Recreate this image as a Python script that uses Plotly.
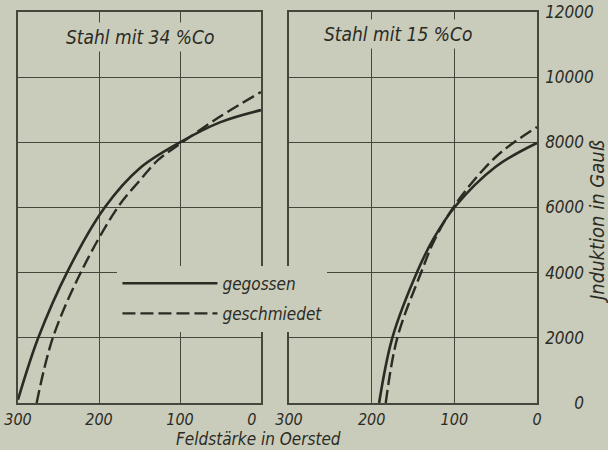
import plotly.graph_objects as go

# ---- data ----
H_34_cast = [300, 275, 238, 193, 150, 100, 50, 0]
B_34_cast = [100, 2000, 4080, 6000, 7200, 8000, 8620, 8990]
H_34_forged = [277, 257, 221, 177, 150, 127, 100, 50, 0]
B_34_forged = [0, 2000, 4080, 6000, 6820, 7460, 7950, 8800, 9545]

H_15_cast = [191, 175, 144, 125, 100, 50, 0]
B_15_cast = [0, 2000, 4080, 5050, 6000, 7250, 7980]
H_15_forged = [183, 169, 139, 125, 100, 50, 0]
B_15_forged = [0, 2000, 4080, 4950, 6050, 7550, 8470]

x_ticks = [300, 200, 100, 0]
x_ticktext_left = ["300", "200", "100", "0\u2007\u2007"]
x_ticktext_right = ["300", "200", "100", "0"]
y_ticks = [0, 2000, 4000, 6000, 8000, 10000, 12000]
y_ticktext = ["\u2007\u2007\u20070", "2000", "4000", "6000", "8000", "10000", "12000"]
titles = ["Stahl mit 34 %Co", "Stahl mit 15 %Co"]
legend_names = ["gegossen", "geschmiedet"]

BG = "#c9cbbb"
INK = "#2b2b24"
GRID = "#46463c"
FAM = "DejaVu Sans Condensed, DejaVu Sans, sans-serif"
FONT = dict(family=FAM, size=17, color=INK, style="italic")
FONT_XT = dict(family=FAM, size=16, color=INK, style="italic")
FONT_T = dict(family=FAM, size=19, color=INK, style="italic")
FONT_Y = dict(family=FAM, size=20, color=INK, style="italic")
FONT_AX = dict(family=FAM, size=17, color=INK, style="italic")

fig = go.Figure()
dash = "13px,5px"
fig.add_trace(go.Scatter(x=H_34_cast, y=B_34_cast, mode="lines", name=legend_names[0],
                         line=dict(color=INK, width=2.6, shape="spline", smoothing=1.0),
                         xaxis="x", yaxis="y", legendgroup="a"))
fig.add_trace(go.Scatter(x=H_34_forged, y=B_34_forged, mode="lines", name=legend_names[1],
                         line=dict(color=INK, width=2.4, dash=dash, shape="spline", smoothing=1.0),
                         xaxis="x", yaxis="y", legendgroup="b"))
fig.add_trace(go.Scatter(x=H_15_cast, y=B_15_cast, mode="lines", showlegend=False,
                         line=dict(color=INK, width=2.6, shape="spline"),
                         xaxis="x2", yaxis="y2"))
fig.add_trace(go.Scatter(x=H_15_forged, y=B_15_forged, mode="lines", showlegend=False,
                         line=dict(color=INK, width=2.4, dash=dash, shape="spline"),
                         xaxis="x2", yaxis="y2"))

xcommon = dict(range=[300, 0], tickvals=x_ticks,
               showgrid=True, gridcolor=GRID, gridwidth=1.3, showline=True,
               linecolor=GRID, linewidth=1.5, mirror=True, zeroline=False,
               ticks="", tickfont=FONT_XT, automargin=False, ticklabelstandoff=1)
ycommon = dict(range=[0, 12000], tickvals=y_ticks, ticktext=y_ticktext, showgrid=True,
               gridcolor=GRID, gridwidth=1.3, showline=True, linecolor=GRID, linewidth=1.5,
               mirror=True, zeroline=False, ticks="", tickfont=FONT, automargin=False)

fig.update_layout(
    width=608, height=450,
    margin=dict(l=18, r=71, t=12, b=47),
    paper_bgcolor=BG, plot_bgcolor=BG,
    font=FONT,
    xaxis=dict(domain=[0, 0.4682], anchor="y", ticktext=x_ticktext_left, **xcommon),
    xaxis2=dict(domain=[0.5222, 1.0], anchor="y2", ticktext=x_ticktext_right, **xcommon),
    yaxis=dict(domain=[0, 1], anchor="x", showticklabels=False, **ycommon),
    yaxis2=dict(domain=[0, 1], anchor="x2", side="right", showticklabels=True,
                ticklabelstandoff=3, **ycommon),
    showlegend=True,
    legend=dict(x=0.1916, y=0.351, xanchor="left", yanchor="top", bgcolor=BG,
                font=FONT, itemwidth=95, traceorder="grouped", tracegroupgap=5,
                borderwidth=0),
    annotations=[
        dict(text=titles[0], x=149, y=0.937, xref="x", yref="paper", showarrow=False,
             font=FONT_T, bgcolor=BG, xanchor="center", yanchor="middle", borderpad=3),
        dict(text=titles[1], x=168, y=0.943, xref="x2", yref="paper", showarrow=False,
             font=FONT_T, bgcolor=BG, xanchor="center", yanchor="middle", borderpad=3),
        dict(text="Feldstärke in Oersted", x=(258 - 18) / 519, y=-0.0915, xref="paper",
             yref="paper", showarrow=False, font=FONT_AX, xanchor="center", yanchor="middle",
             borderpad=0),
        dict(text="Jnduktion in Gauß", x=1.1156, y=0.4655, xref="paper", yref="paper",
             showarrow=False, font=FONT_Y, textangle=-90, xanchor="center", yanchor="middle"),
    ],
)

fig.write_html("out.html", config={"displayModeBar": False},
               post_script="document.body.style.margin='0px';"
                           "document.body.style.background='" + BG + "';")
